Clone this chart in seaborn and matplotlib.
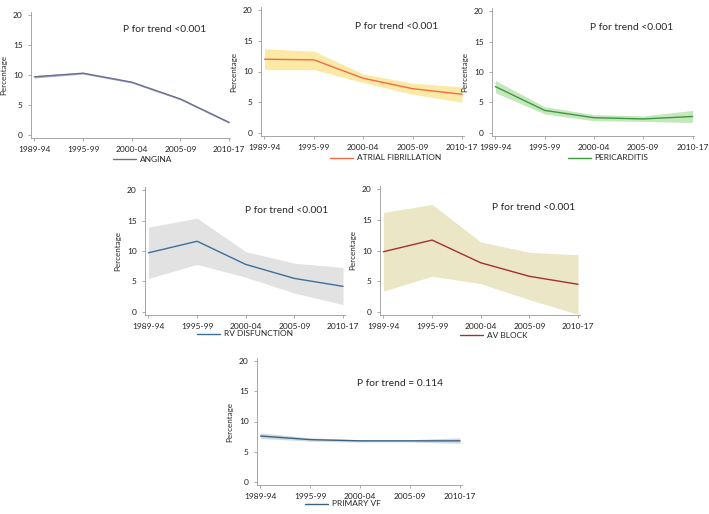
import numpy as np
import pandas as pd
import seaborn as sns
import matplotlib.pyplot as plt

sns.set_style("white")
plt.rcParams['font.family'] = ['Lato', 'DejaVu Sans']

periods = ["1989-94", "1995-99", "2000-04", "2005-09", "2010-17"]

angina_mid = [9.7, 10.3, 8.8, 6.0, 2.1]
angina_lo = [9.5, 10.15, 8.65, 5.85, 1.95]
angina_hi = [9.9, 10.45, 8.95, 6.15, 2.25]

af_mid = [12.0, 11.9, 8.9, 7.2, 6.3]
af_lo = [10.3, 10.3, 8.2, 6.3, 5.0]
af_hi = [13.7, 13.3, 9.6, 8.1, 7.5]

peri_mid = [7.6, 3.7, 2.5, 2.3, 2.7]
peri_lo = [6.6, 3.1, 2.0, 1.9, 1.7]
peri_hi = [8.6, 4.3, 3.0, 2.8, 3.7]

rv_mid = [9.7, 11.6, 7.8, 5.5, 4.2]
rv_lo = [5.5, 7.8, 5.7, 3.1, 1.2]
rv_hi = [13.9, 15.4, 9.9, 8.0, 7.3]

av_mid = [9.8, 11.7, 8.0, 5.8, 4.5]
av_lo = [3.4, 5.8, 4.6, 2.0, -0.4]
av_hi = [16.2, 17.5, 11.4, 9.7, 9.3]

vf_mid = [7.6, 7.0, 6.8, 6.8, 6.8]
vf_lo = [7.2, 6.75, 6.6, 6.6, 6.4]
vf_hi = [8.1, 7.3, 7.0, 7.0, 7.3]

W, H = 709, 514
fig = plt.figure(figsize=(W / 100, H / 100), dpi=100)

# name, mid, lo, hi, line colour, band colour, p text,
# axes box in pixels (left, top, right, bottom), title pos (axes frac), legend pos (px)
panels = [
    ("ANGINA", angina_mid, angina_lo, angina_hi, "#6b7090", "#aeb0d6", "P for trend <0.001",
     (31, 12, 230.5, 138), (0.67, 0.865), (113, 159)),
    ("ATRIAL FIBRILLATION", af_mid, af_lo, af_hi, "#f26a48", "#fde9a6", "P for trend <0.001",
     (261, 7, 463.5, 136), (0.67, 0.845), (330, 158)),
    ("PERICARDITIS", peri_mid, peri_lo, peri_hi, "#3b9a3b", "#c6e6be", "P for trend <0.001",
     (492, 8, 694, 136), (0.69, 0.85), (568, 158)),
    ("RV DISFUNCTION", rv_mid, rv_lo, rv_hi, "#3d6f9b", "#e2e2e2", "P for trend <0.001",
     (145, 187, 344.5, 315), (0.71, 0.82), (197, 334)),
    ("AV BLOCK", av_mid, av_lo, av_hi, "#a3302f", "#ebe6c6", "P for trend <0.001",
     (380, 186, 579.5, 315), (0.77, 0.83), (460, 335)),
    ("PRIMARY VF", vf_mid, vf_lo, vf_hi, "#3d6383", "#cfd9e4", "P for trend = 0.114",
     (257, 358, 461.5, 485), (0.70, 0.80), (305, 504)),
]

for name, mid, lo, hi, lc, bc, ptxt, box, tpos, lpos in panels:
    l, t, r, b = box
    ax = fig.add_axes([l / W, 1 - b / H, (r - l) / W, (b - t) / H])
    xs = list(range(len(periods)))
    df = pd.DataFrame({"x": xs * 3, "y": lo + mid + hi})
    sns.lineplot(data=df, x="x", y="y", estimator="median", errorbar=("pi", 100),
                 color=lc, linewidth=1.0, label=name, ax=ax,
                 err_kws={"facecolor": bc, "alpha": 1, "linewidth": 0})
    ax.set_xlim(-0.07, 4.03)
    ax.set_ylim(-0.5, 20.5)
    ax.set_xticks(xs)
    ax.set_xticklabels(periods)
    ax.set_yticks([0, 5, 10, 15, 20])
    ax.set_xlabel("")
    ax.set_ylabel("Percentage", fontsize=5.8, labelpad=4)
    ax.tick_params(axis="both", labelsize=6, length=2, width=0.5, color="#888888", pad=4,
                   bottom=True, left=True, labelcolor="#222222")
    for s in ["top", "right"]:
        ax.spines[s].set_visible(False)
    for s in ["left", "bottom"]:
        ax.spines[s].set_color("#999999")
        ax.spines[s].set_linewidth(0.6)
    ax.text(tpos[0], tpos[1], ptxt, transform=ax.transAxes, ha="center", va="center",
            fontsize=7.4)
    ax.legend(loc="center left", bbox_to_anchor=(lpos[0] / W, 1 - lpos[1] / H),
              bbox_transform=fig.transFigure, frameon=False, fontsize=6,
              handlelength=2.7, handletextpad=0.5, borderpad=0, borderaxespad=0)

fig.savefig("out.png", dpi=100)
